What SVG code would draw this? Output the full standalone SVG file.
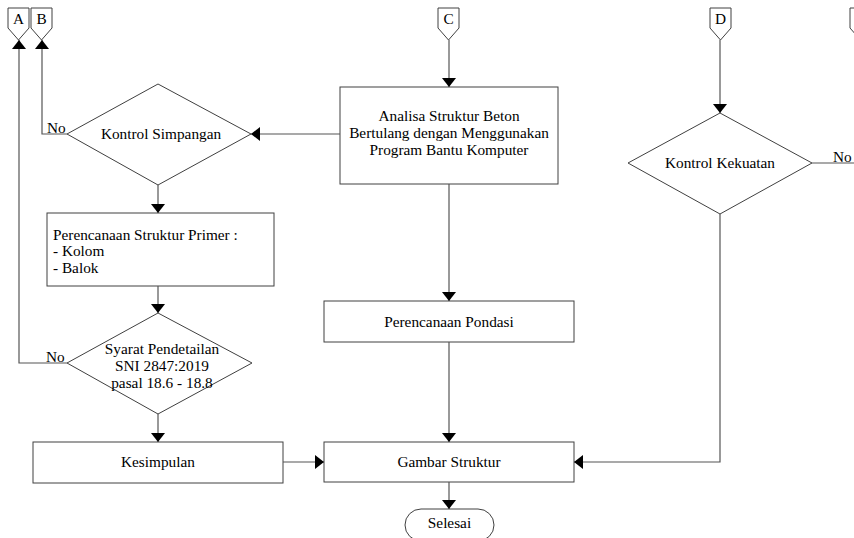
<svg xmlns="http://www.w3.org/2000/svg" width="854" height="538" viewBox="0 0 854 538">
<style>
.s{fill:#fff;stroke:#404040;stroke-width:1}
.t{font-family:"Liberation Serif","Times New Roman",serif;font-size:15.3px;fill:#000}
.c{text-anchor:middle}
.l{fill:none;stroke:#555;stroke-width:1.2}
</style>
<defs>
<marker id="ah" markerUnits="userSpaceOnUse" markerWidth="10" markerHeight="16" refX="9" refY="7" orient="auto">
<path d="M0,0 L9,7 L0,14 z" fill="#000"/>
</marker>
</defs>
<rect width="854" height="538" fill="#fff"/>
<g id="conA"><path class="s" d="M8,8 H29 V28 L18.5,40 L8,28 Z"/><text class="t c" x="18.5" y="24">A</text></g>
<g id="conB"><path class="s" d="M31,8 H52 V28 L41.5,40 L31,28 Z"/><text class="t c" x="41.5" y="24">B</text></g>
<g id="conC"><path class="s" d="M438,8 H459 V28 L448.5,40 L438,28 Z"/><text class="t c" x="448.5" y="24">C</text></g>
<g id="conD"><path class="s" d="M710,8 H731 V28 L720.5,40 L710,28 Z"/><text class="t c" x="720.5" y="24">D</text></g>
<g id="conE"><path class="s" d="M850,8 H871 V28 L860.5,40 L850,28 Z"/></g>
<g id="analisa"><rect class="s" x="340" y="87" width="218" height="97"/>
<text class="t c" x="449" y="121">Analisa Struktur Beton</text>
<text class="t c" x="449" y="138">Bertulang dengan Menggunakan</text>
<text class="t c" x="449" y="155">Program Bantu Komputer</text></g>
<g id="kontrolSimpangan"><path class="s" d="M158,84 L251,134 L158,185 L67,134 Z"/>
<text class="t c" x="161" y="139">Kontrol Simpangan</text></g>
<g id="primer"><rect class="s" x="47" y="213" width="227" height="73"/>
<text class="t" x="53" y="240">Perencanaan Struktur Primer :</text>
<text class="t" x="53" y="256">- Kolom</text>
<text class="t" x="53" y="273">- Balok</text></g>
<g id="syarat"><path class="s" d="M158,313 L252,363 L158,414 L67,363 Z"/>
<text class="t c" x="162" y="354">Syarat Pendetailan</text>
<text class="t c" x="162" y="371">SNI 2847:2019</text>
<text class="t c" x="162" y="388">pasal 18.6 - 18.8</text></g>
<g id="kesimpulan"><rect class="s" x="33" y="442" width="250" height="41"/>
<text class="t c" x="158" y="467">Kesimpulan</text></g>
<g id="pondasi"><rect class="s" x="324" y="301" width="250" height="41"/>
<text class="t c" x="449" y="327">Perencanaan Pondasi</text></g>
<g id="gambar"><rect class="s" x="324" y="442" width="250" height="40"/>
<text class="t c" x="449" y="467">Gambar Struktur</text></g>
<g id="selesai"><rect class="s" x="405" y="509" width="89" height="32" rx="16"/>
<text class="t c" x="449.5" y="528">Selesai</text></g>
<g id="kontrolKekuatan"><path class="s" d="M720,113 L812,163 L720,214 L628,163 Z"/>
<text class="t c" x="720" y="168">Kontrol Kekuatan</text></g>
<g id="connectors">
<path class="l" d="M449,40 V87" marker-end="url(#ah)"/>
<path class="l" d="M340,134 H251" marker-end="url(#ah)"/>
<path class="l" d="M67,134 H42 V40" marker-end="url(#ah)"/>
<path class="l" d="M158,185 V213" marker-end="url(#ah)"/>
<path class="l" d="M158,286 V313" marker-end="url(#ah)"/>
<path class="l" d="M67,363 H19 V40" marker-end="url(#ah)"/>
<path class="l" d="M158,414 V442" marker-end="url(#ah)"/>
<path class="l" d="M283,462 H324" marker-end="url(#ah)"/>
<path class="l" d="M449,184 V301" marker-end="url(#ah)"/>
<path class="l" d="M449,342 V442" marker-end="url(#ah)"/>
<path class="l" d="M449,482 V509" marker-end="url(#ah)"/>
<path class="l" d="M720,40 V113" marker-end="url(#ah)"/>
<path class="l" d="M720,214 V462 H574" marker-end="url(#ah)"/>
<path class="l" d="M812,163 H854"/>
<text class="t" x="47" y="133">No</text>
<text class="t" x="46" y="362">No</text>
<text class="t" x="833" y="162">No</text>
</g>
</svg>
